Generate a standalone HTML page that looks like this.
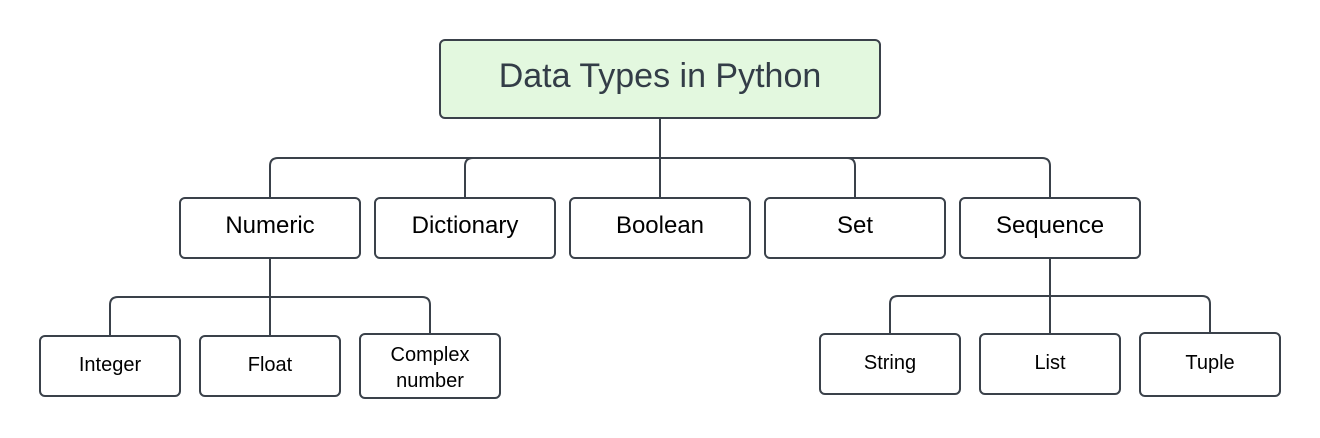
<!DOCTYPE html>
<html><head><style>body{margin:0;background:#fff}svg{display:block}text{font-family:"Liberation Sans",sans-serif;fill:#000;text-anchor:middle}</style></head><body>
<svg width="1320" height="438" viewBox="0 0 1320 438">
<g fill="none" stroke="#3a414a" stroke-width="2">
<path d="M660 118V158M270 198V166q0-8 8-8H1042q8 0 8 8V198M465 198V166q0-8 8-8M660 158V198M855 198V166q0-8-8-8"/>
<path d="M270 258V297M110 336V305q0-8 8-8H422q8 0 8 8V334M270 297V336"/>
<path d="M1050 258V296M890 334V304q0-8 8-8H1202q8 0 8 8V333M1050 296V334"/>
</g>
<g stroke="#3a414a" stroke-width="2">
<rect x="440" y="40" width="440" height="78" rx="5" fill="#e3f8df"/>
<rect x="180" y="198" width="180" height="60" rx="5" fill="#fff"/>
<rect x="375" y="198" width="180" height="60" rx="5" fill="#fff"/>
<rect x="570" y="198" width="180" height="60" rx="5" fill="#fff"/>
<rect x="765" y="198" width="180" height="60" rx="5" fill="#fff"/>
<rect x="960" y="198" width="180" height="60" rx="5" fill="#fff"/>
<rect x="40" y="336" width="140" height="60" rx="5" fill="#fff"/>
<rect x="200" y="336" width="140" height="60" rx="5" fill="#fff"/>
<rect x="360" y="334" width="140" height="64" rx="5" fill="#fff"/>
<rect x="820" y="334" width="140" height="60" rx="5" fill="#fff"/>
<rect x="980" y="334" width="140" height="60" rx="5" fill="#fff"/>
<rect x="1140" y="333" width="140" height="63" rx="5" fill="#fff"/>
</g>
<text x="660" y="87" font-size="34" style="fill:#333d47">Data Types in Python</text>
<g font-size="24">
<text x="270" y="233">Numeric</text><text x="465" y="233">Dictionary</text><text x="660" y="233">Boolean</text><text x="855" y="233">Set</text><text x="1050" y="233">Sequence</text>
</g>
<g font-size="20">
<text x="110" y="371">Integer</text><text x="270" y="371">Float</text>
<text x="430" y="361">Complex</text><text x="430" y="387">number</text>
<text x="890" y="369">String</text><text x="1050" y="369">List</text><text x="1210" y="369">Tuple</text>
</g>
</svg>
</body></html>
